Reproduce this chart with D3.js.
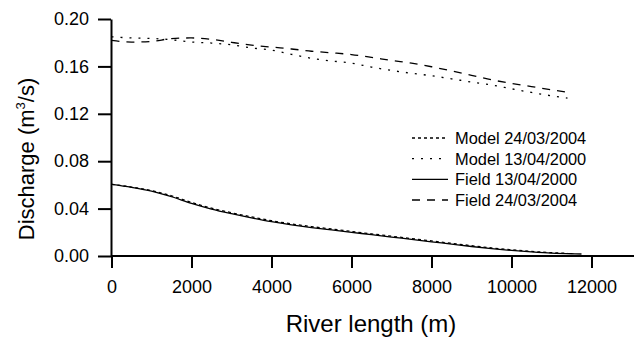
<!DOCTYPE html>
<meta charset="utf-8">
<style>
body { margin: 0; background: #fff; }
svg { font-family: Arial, "Liberation Sans", sans-serif; }
.axis path, .axis line { stroke: #000; }
</style>
<svg width="634" height="337"></svg>
<script src="https://cdn.jsdelivr.net/npm/d3@7/dist/d3.min.js"></script>
<script>
// river length (m) for each series
var xUpper = [0,500,1000,1500,2000,2500,3000,3500,4000,4500,5000,5500,6000,6500,7000,7500,8000,8500,9000,9500,10000,10500,11000,11400];
var xField2000 = [0,500,1000,1500,2000,2500,3000,3500,4000,4500,5000,5500,6000,6500,7000,7500,8000,8500,9000,9500,10000,10500,11000,11500,11750];
var xModel2004 = [0,500,1000,1500,2000,2500,3000,3500,4000,4500,5000,5500,6000,6500,7000,7500,8000,8500,9000,9500,10000,10500,11000,11400];

// discharge (m3/s)
var field2004 = [0.182,0.1805,0.181,0.1835,0.184,0.1828,0.1803,0.178,0.1763,0.1747,0.1728,0.1715,0.1700,0.1676,0.1650,0.1627,0.1597,0.1562,0.1525,0.1487,0.1457,0.1430,0.1402,0.1382];
var model2000 = [0.185,0.184,0.1836,0.1825,0.1806,0.1797,0.1782,0.1756,0.1738,0.1702,0.1668,0.1646,0.1628,0.1594,0.1566,0.1542,0.1521,0.1495,0.1468,0.1443,0.1411,0.1380,0.1352,0.1333];
var field2000 = [0.0605,0.0580,0.0548,0.0500,0.0444,0.0396,0.0357,0.0322,0.0290,0.0263,0.0240,0.0220,0.0200,0.0180,0.0160,0.0140,0.0120,0.0100,0.0080,0.0062,0.0047,0.0035,0.0025,0.0019,0.0017];
var model2004 = [0.0605,0.0582,0.0552,0.0508,0.0452,0.0404,0.0365,0.0330,0.0298,0.0271,0.0248,0.0228,0.0207,0.0187,0.0167,0.0147,0.0127,0.0107,0.0087,0.0068,0.0052,0.0039,0.0028,0.0022];

var xMajor = [0,2000,4000,6000,8000,10000,12000];
var xMinor = [1000,3000,5000,7000,9000,11000,13000];
var yMajor = [0,0.04,0.08,0.12,0.16,0.20];
var yMinor = [0.02,0.06,0.10,0.14,0.18];

var legendLabels = ["Model 24/03/2004","Model 13/04/2000","Field 13/04/2000","Field 24/03/2004"];

var series = [
  {name: legendLabels[0], xs: xModel2004, ys: model2004, dash: "3,3"},
  {name: legendLabels[1], xs: xUpper, ys: model2000, dash: "2,7"},
  {name: legendLabels[2], xs: xField2000, ys: field2000, dash: null},
  {name: legendLabels[3], xs: xUpper, ys: field2004, dash: "8,7"}
];

var svg = d3.select("svg");

var x = d3.scaleLinear().domain([0, 13000]).range([111.5, 631.5]);
var y = d3.scaleLinear().domain([0, 0.2]).range([256, 19]);

// x axis
var gx = svg.append("g").attr("class", "axis").attr("transform", "translate(0,256)");
gx.call(d3.axisBottom(x).tickValues(xMinor).tickSize(7).tickSizeOuter(0).tickFormat(""));
gx.call(d3.axisBottom(x).tickValues(xMajor).tickSize(12).tickSizeOuter(0).tickFormat(d3.format("d")));
gx.selectAll("path").attr("stroke-width", 2).attr("d", "M111,0H634");
gx.selectAll("line").attr("stroke-width", 2);
gx.selectAll("text").attr("y", 24).attr("dy", "0.71em").attr("font-size", 18).attr("fill", "#000").attr("font-family", null);

// y axis
var gy = svg.append("g").attr("class", "axis").attr("transform", "translate(111,0)");
gy.call(d3.axisLeft(y).tickValues(yMinor).tickSize(7).tickSizeOuter(0).tickFormat(""));
gy.call(d3.axisLeft(y).tickValues(yMajor).tickSize(13).tickSizeOuter(0).tickFormat(d3.format(".2f")));
gy.selectAll("path").attr("stroke-width", 2);
gy.selectAll("line").attr("stroke-width", 2);
gy.selectAll("text").attr("x", -22).attr("font-size", 18).attr("fill", "#000").attr("font-family", null);

// lines
var line = d3.line()
    .x(function(d) { return x(d[0]); })
    .y(function(d) { return y(d[1]); })
    .curve(d3.curveMonotoneX);

series.forEach(function(s) {
  var pts = s.xs.map(function(v, i) { return [v, s.ys[i]]; });
  svg.append("path")
      .attr("d", line(pts))
      .attr("fill", "none")
      .attr("stroke", "#000")
      .attr("stroke-width", 1.3)
      .attr("stroke-dasharray", s.dash);
});

// legend
var rowY = d3.scalePoint().domain(legendLabels).range([138, 200]);
var lg = svg.append("g");
series.forEach(function(s) {
  var yy = rowY(s.name);
  lg.append("line")
      .attr("x1", 412).attr("x2", 448).attr("y1", yy).attr("y2", yy)
      .attr("stroke", "#000").attr("stroke-width", 1.3)
      .attr("stroke-dasharray", s.dash);
  lg.append("text")
      .attr("x", 455).attr("y", yy).attr("dy", "0.36em")
      .attr("font-size", 16.4)
      .text(s.name);
});

// axis titles
svg.append("text")
    .attr("x", 371).attr("y", 332)
    .attr("text-anchor", "middle")
    .attr("font-size", 24)
    .text("River length (m)");

var yt = svg.append("text")
    .attr("transform", "translate(34,159) rotate(-90)")
    .attr("text-anchor", "middle")
    .attr("font-size", 22);
yt.append("tspan").text("Discharge (m");
yt.append("tspan").attr("dy", -9).attr("font-size", 13).text("3");
yt.append("tspan").attr("dy", 9).text("/s)");
</script>
